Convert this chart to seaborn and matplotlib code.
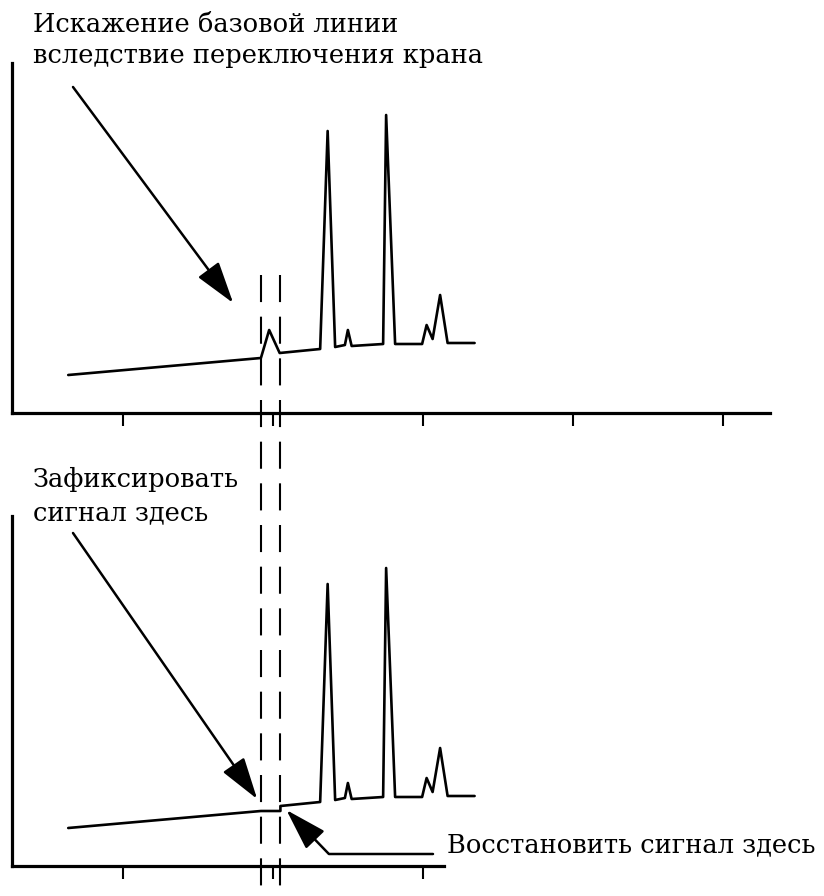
import numpy as np
import seaborn as sns
import matplotlib.pyplot as plt

# chromatogram, minutes vs detector signal (arbitrary units)
time_raw = [1.27, 3.84, 3.95, 4.09, 4.63, 4.73, 4.83, 4.96, 5.00, 5.05,
            5.47, 5.51, 5.63, 5.99, 6.05, 6.13, 6.23, 6.33, 6.69]
signal_raw = [38, 55, 83, 60, 64, 282, 66, 68, 83, 67,
              69, 298, 69, 69, 88, 74, 118, 70, 70]

# same run with the signal held while the valve switches
time_held = [1.27, 3.84, 4.10, 4.10, 4.63, 4.73, 4.83, 4.96, 5.00, 5.05,
             5.47, 5.51, 5.63, 5.99, 6.05, 6.13, 6.23, 6.33, 6.69]
signal_held = [38, 55, 55, 60, 64, 282, 66, 68, 83, 67,
               69, 298, 69, 69, 88, 74, 118, 70, 70]

valve_on, valve_off = 3.84, 4.10
ticks_top = [2, 4, 6, 8, 10]
ticks_bottom = [2, 4, 6]

title_top = ['Искажение базовой линии', 'вследствие переключения крана']
label_hold = ['Зафиксировать', 'сигнал здесь']
label_restore = 'Восстановить сигнал здесь'

sns.set_theme(style='white')
plt.rcParams['font.family'] = ['DejaVu Serif']

W, H = 824, 896
fig = plt.figure(figsize=(W / 100, H / 100), dpi=100)
ax_top = fig.add_axes([12 / W, (H - 413) / H, 758 / W, 350 / H])
ax_bot = fig.add_axes([12 / W, (H - 866) / H, 758 / W, 350 / H])

for ax, t, s in [(ax_top, time_raw, signal_raw), (ax_bot, time_held, signal_held)]:
    sns.lineplot(x=t, y=s, ax=ax, color='black', lw=1.9, sort=False, estimator=None)
    ax.set_xlim(0.52, 10.63)
    ax.set_ylim(0, 350)
    sns.despine(ax=ax)
    for side in ['left', 'bottom']:
        ax.spines[side].set_linewidth(2.3)
        ax.spines[side].set_color('black')
    ax.tick_params(axis='x', direction='out', length=9.5, width=1.5, color='black',
                   bottom=True, labelbottom=False)
    ax.set_yticks([])
    ax.set_facecolor('none')

ax_top.set_xticks(ticks_top)
ax_bot.set_xticks(ticks_bottom)
ax_bot.spines['bottom'].set_bounds(0.52, 6.28)

# valve switching window, drawn across both panels (top to bottom)
for x in [valve_on, valve_off]:
    ax_top.plot([x, x], [0.394, -1.42], transform=ax_top.get_xaxis_transform(),
                color='black', lw=1.5, dashes=(13, 7), clip_on=False)

head = dict(arrowstyle='-|>,head_length=1.3,head_width=0.4', mutation_scale=20,
            color='black', lw=1.8, shrinkA=0, shrinkB=0)

ax_top.annotate('', xy=(3.47, 110), xycoords='data',
                xytext=(73, H - 87), textcoords='figure pixels', arrowprops=head)
ax_bot.annotate('', xy=(3.79, 67), xycoords='data',
                xytext=(73, H - 533), textcoords='figure pixels', arrowprops=head)
ax_bot.annotate('', xy=(4.18, 56), xycoords='data',
                xytext=(433, H - 854), textcoords='figure pixels',
                arrowprops=dict(head, connectionstyle='angle,angleA=0,angleB=134,rad=0'))

fs = 18.5
for line, y in zip(title_top, [32, 63]):
    fig.text(33 / W, 1 - y / H, line, fontsize=fs, va='baseline', ha='left', color='black')
for line, y in zip(label_hold, [487, 520]):
    fig.text(33 / W, 1 - y / H, line, fontsize=fs, va='baseline', ha='left', color='black')
fig.text(447 / W, 1 - 852 / H, label_restore, fontsize=fs, va='baseline', ha='left',
         color='black')

fig.savefig('out.png', dpi=100, facecolor='white')
